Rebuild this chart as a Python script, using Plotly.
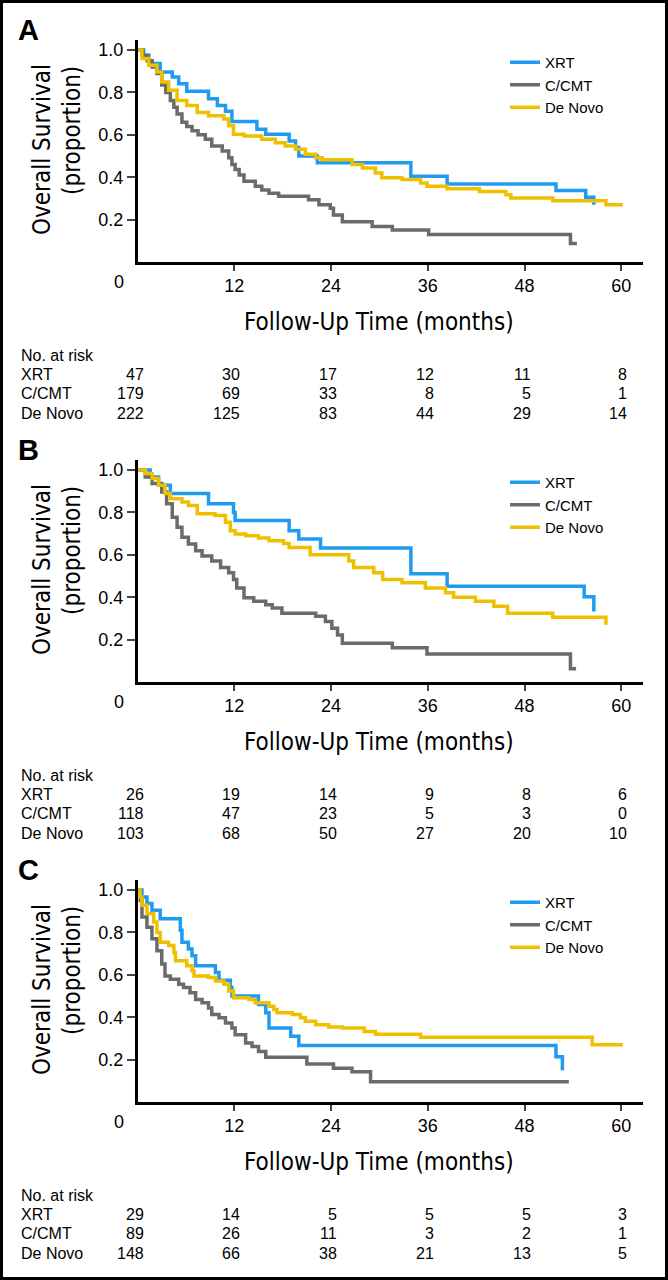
import plotly.graph_objects as go

W, H = 668, 1280

groups = ["XRT", "C/CMT", "De Novo"]
colors = ["#1f9cf0", "#6b6b6b", "#efc000"]
risk_months = [0, 12, 24, 36, 48, 60]

# ---- panel A ----
a_xrt_t = [0, 0.75, 1.4, 2.8, 4.3, 5.1, 6.1, 8.8, 9.9, 10.9, 11.7, 14.8, 15.9, 18.8, 19.6, 20.0, 22.3, 33.9, 38.4, 51.9, 55.6, 56.6]
a_xrt_s = [1.0, 0.976, 0.937, 0.897, 0.873, 0.841, 0.806, 0.77, 0.738, 0.711, 0.663, 0.627, 0.603, 0.571, 0.54, 0.50, 0.468, 0.405, 0.368, 0.338, 0.305, 0.27]
a_cmt_t = [0, 0.6, 1.2, 1.8, 2.4, 3.0, 3.5, 4.06, 4.5, 4.9, 5.5, 6.1, 6.75, 7.5, 8.4, 9.2, 10.5, 11.3, 11.7, 12.1, 12.6, 13.2, 14.6, 15.4, 16.3, 17.5, 21.2, 22.5, 23.9, 24.3, 25.4, 29.1, 31.6, 36.1, 53.7, 54.5]
a_cmt_s = [1.0, 0.975, 0.95, 0.92, 0.89, 0.835, 0.80, 0.762, 0.73, 0.698, 0.659, 0.64, 0.619, 0.60, 0.579, 0.548, 0.524, 0.492, 0.46, 0.437, 0.41, 0.381, 0.357, 0.34, 0.325, 0.31, 0.294, 0.27, 0.254, 0.222, 0.19, 0.167, 0.151, 0.13, 0.087, 0.087]
a_dn_t = [0, 0.54, 1.37, 2.4, 3.0, 3.85, 4.9, 6.1, 7.4, 8.8, 10.7, 11.3, 11.9, 13.2, 15.4, 17.1, 18.3, 19.6, 20.8, 22.1, 22.9, 26.6, 27.9, 29.5, 30.3, 32.8, 35.1, 35.9, 38.4, 42.4, 45.7, 46.3, 51.5, 58.1, 60.2]
a_dn_s = [1.0, 0.96, 0.929, 0.897, 0.849, 0.81, 0.762, 0.738, 0.706, 0.69, 0.675, 0.643, 0.603, 0.595, 0.579, 0.563, 0.548, 0.532, 0.508, 0.492, 0.482, 0.46, 0.444, 0.42, 0.397, 0.389, 0.373, 0.357, 0.346, 0.333, 0.317, 0.302, 0.289, 0.27, 0.27]
a_risk = [[47, 30, 17, 12, 11, 8], [179, 69, 33, 8, 5, 1], [222, 125, 83, 44, 29, 14]]

# ---- panel B ----
b_xrt_t = [0, 1.57, 2.6, 4.06, 8.8, 11.9, 12.1, 18.8, 20.0, 22.7, 33.9, 38.4, 55.4, 56.6]
b_xrt_s = [1.0, 0.968, 0.929, 0.889, 0.841, 0.80, 0.762, 0.714, 0.675, 0.632, 0.511, 0.452, 0.402, 0.333]
b_cmt_t = [0, 0.95, 1.8, 3.0, 3.6, 4.3, 4.9, 5.5, 6.3, 7.2, 8.0, 9.2, 10.3, 11.3, 11.9, 12.3, 13.2, 14.4, 15.9, 16.7, 17.9, 22.1, 23.3, 24.1, 24.8, 25.4, 31.6, 35.9, 53.7, 54.4]
b_cmt_s = [1.0, 0.968, 0.937, 0.897, 0.841, 0.778, 0.73, 0.683, 0.651, 0.619, 0.595, 0.571, 0.54, 0.516, 0.484, 0.444, 0.397, 0.381, 0.365, 0.349, 0.325, 0.31, 0.286, 0.254, 0.222, 0.183, 0.162, 0.132, 0.063, 0.063]
b_dn_t = [0, 0.95, 1.8, 2.6, 3.4, 4.06, 5.5, 6.3, 7.4, 9.6, 10.9, 11.5, 12.1, 13.4, 15.0, 16.3, 18.1, 18.8, 21.4, 26.2, 26.8, 29.3, 30.4, 32.8, 35.7, 38.2, 39.2, 41.9, 44.2, 45.9, 51.5, 58.1]
b_dn_s = [1.0, 0.984, 0.96, 0.929, 0.889, 0.865, 0.849, 0.833, 0.794, 0.786, 0.754, 0.714, 0.698, 0.69, 0.679, 0.667, 0.654, 0.635, 0.60, 0.571, 0.54, 0.516, 0.484, 0.468, 0.444, 0.421, 0.40, 0.381, 0.357, 0.325, 0.305, 0.27]
b_risk = [[26, 19, 14, 9, 8, 6], [118, 47, 23, 5, 3, 0], [103, 68, 50, 27, 20, 10]]

# ---- panel C ----
c_xrt_t = [0, 0.54, 1.16, 1.78, 2.8, 5.3, 5.5, 6.3, 6.75, 7.2, 9.65, 10.1, 11.5, 11.7, 15.0, 15.9, 16.3, 19.0, 20.0, 51.9, 52.7]
c_xrt_s = [1.0, 0.968, 0.937, 0.905, 0.865, 0.81, 0.754, 0.722, 0.69, 0.643, 0.611, 0.575, 0.54, 0.50, 0.46, 0.421, 0.349, 0.31, 0.267, 0.214, 0.15]
c_cmt_t = [0, 0.33, 0.54, 1.16, 1.78, 2.4, 3.0, 3.4, 4.06, 5.1, 5.7, 6.5, 7.2, 8.0, 8.8, 9.2, 10.1, 10.9, 11.7, 12.1, 13.4, 14.2, 15.0, 15.9, 21.0, 24.3, 26.6, 28.9, 53.5]
c_cmt_s = [1.0, 0.952, 0.873, 0.825, 0.77, 0.714, 0.651, 0.595, 0.579, 0.556, 0.54, 0.516, 0.484, 0.468, 0.444, 0.413, 0.397, 0.373, 0.349, 0.317, 0.278, 0.262, 0.238, 0.211, 0.179, 0.159, 0.143, 0.095, 0.095]
c_dn_t = [0, 0.3, 0.54, 1.16, 2.0, 2.4, 2.8, 3.85, 4.5, 4.7, 6.1, 6.75, 7.0, 8.8, 9.65, 10.7, 11.3, 11.9, 13.8, 14.6, 16.3, 16.9, 17.3, 19.2, 20.2, 20.8, 22.1, 23.7, 25.4, 28.1, 29.5, 35.1, 56.4, 60.2]
c_dn_s = [1.0, 0.968, 0.929, 0.889, 0.849, 0.80, 0.754, 0.738, 0.706, 0.667, 0.643, 0.619, 0.595, 0.587, 0.571, 0.556, 0.524, 0.492, 0.484, 0.468, 0.452, 0.437, 0.421, 0.413, 0.397, 0.381, 0.365, 0.354, 0.349, 0.333, 0.32, 0.305, 0.27, 0.27]
c_risk = [[29, 14, 5, 5, 5, 3], [89, 26, 11, 3, 2, 1], [148, 66, 38, 21, 13, 5]]

panels = [
    ("A", [(a_xrt_t, a_xrt_s), (a_cmt_t, a_cmt_s), (a_dn_t, a_dn_s)], a_risk),
    ("B", [(b_xrt_t, b_xrt_s), (b_cmt_t, b_cmt_s), (b_dn_t, b_dn_s)], b_risk),
    ("C", [(c_xrt_t, c_xrt_s), (c_cmt_t, c_cmt_s), (c_dn_t, c_dn_s)], c_risk),
]

FONT = "Liberation Sans, Arial, sans-serif"
NARROW = "Liberation Sans Narrow, DejaVu Sans Condensed, Liberation Sans, sans-serif"


def py(y):
    return 1 - y / H


fig = go.Figure()
layout = dict(
    width=W, height=H, margin=dict(l=0, r=0, t=0, b=0),
    paper_bgcolor="white", plot_bgcolor="white",
    font=dict(family=FONT, color="black"),
    annotations=[], shapes=[],
)

x_dom = [137.6 / W, 643 / W]
for i, (letter, curves, risk) in enumerate(panels):
    off = 420 * i
    sfx = "" if i == 0 else str(i + 1)
    leg = "legend" + sfx
    for g, (t, s), col in zip(groups, curves, colors):
        fig.add_trace(go.Scatter(
            x=t, y=s, mode="lines", name=g, line=dict(color=col, width=3.5, shape="hv"),
            xaxis="x" + sfx, yaxis="y" + sfx, legend=leg,
        ))
    layout["xaxis" + sfx] = dict(
        domain=x_dom, range=[0, 62.7], anchor="y" + sfx,
        tickvals=[12, 24, 36, 48, 60], ticks="outside", ticklen=6, tickwidth=2,
        showline=True, linewidth=2.6, linecolor="black", showgrid=False, zeroline=False,
        tickfont=dict(size=18, family=FONT),
    )
    top = 39.5 + off
    bot = 262 + off
    layout["yaxis" + sfx] = dict(
        domain=[py(bot), py(top)], range=[0, 1.05], anchor="x" + sfx,
        tickvals=[0.2, 0.4, 0.6, 0.8, 1.0], tickformat=".1f",
        ticks="outside", ticklen=8, tickwidth=2,
        showline=True, linewidth=2.6, linecolor="black", showgrid=False, zeroline=False,
        tickfont=dict(size=18, family=FONT),
    )
    layout[leg] = dict(
        x=505 / W, y=py(46 + off), xanchor="left", yanchor="top",
        font=dict(size=15, family=FONT), bgcolor="rgba(0,0,0,0)", tracegroupgap=0,
    )
    ann = layout["annotations"]
    ann.append(dict(text="<b>" + letter + "</b>", x=16 / W, y=py(30 + off), xref="paper", yref="paper",
                    xanchor="left", yanchor="middle", showarrow=False, font=dict(size=29, family=FONT)))
    ann.append(dict(text="0", x=119 / W, y=py(282 + off), xref="paper", yref="paper",
                    xanchor="center", yanchor="middle", showarrow=False, font=dict(size=18, family=FONT)))
    ann.append(dict(text="Overall Survival", x=42 / W, y=py(150 + off), xref="paper", yref="paper",
                    textangle=-90, xanchor="center", yanchor="middle", showarrow=False,
                    font=dict(size=24, family=NARROW)))
    ann.append(dict(text="(proportion)", x=72 / W, y=py(131 + off), xref="paper", yref="paper",
                    textangle=-90, xanchor="center", yanchor="middle", showarrow=False,
                    font=dict(size=24, family=NARROW)))
    ann.append(dict(text="Follow-Up Time (months)", x=379 / W, y=py(322 + off), xref="paper", yref="paper",
                    xanchor="center", yanchor="middle", showarrow=False, font=dict(size=24, family=NARROW)))
    ann.append(dict(text="No. at risk", x=19 / W, y=py(355 + off), xref="paper", yref="paper",
                    xanchor="left", yanchor="middle", showarrow=False, font=dict(size=16, family=FONT)))
    for r, (g, row) in enumerate(zip(groups, risk)):
        ry = py(374 + 19.5 * r + off)
        ann.append(dict(text=g, x=19 / W, y=ry, xref="paper", yref="paper",
                        xanchor="left", yanchor="middle", showarrow=False, font=dict(size=16, family=FONT)))
        for m, n in zip(risk_months, row):
            ann.append(dict(text=str(n), x=m, y=ry, xref="x" + sfx, yref="paper", xshift=8,
                            xanchor="right", yanchor="middle", showarrow=False,
                            font=dict(size=16, family=FONT)))

layout["shapes"].append(dict(type="rect", xref="paper", yref="paper", x0=0, y0=0, x1=1, y1=1,
                             line=dict(color="black", width=6)))
fig.update_layout(**layout)
# the page body has a default 8px margin; drop it so the figure sits at the window corner
fig.write_html("out.html", config={"displayModeBar": False},
               post_script="document.body.style.margin='0';document.body.style.overflow='hidden';")
